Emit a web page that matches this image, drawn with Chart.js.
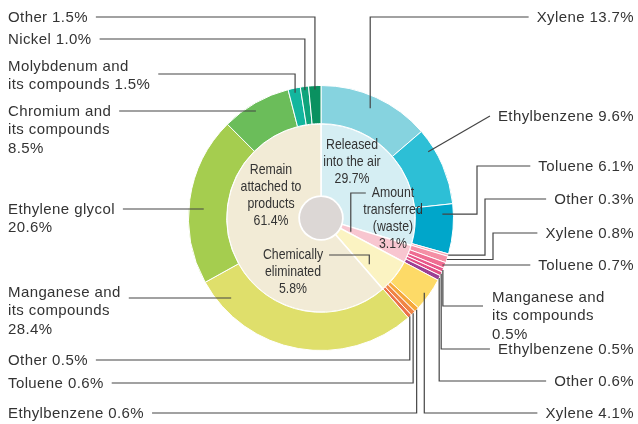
<!DOCTYPE html>
<html>
<head>
<meta charset="utf-8">
<script src="https://cdn.jsdelivr.net/npm/chart.js@4.4.1/dist/chart.umd.min.js"></script>
<style>
  html, body { margin: 0; padding: 0; background: #fff; }
  canvas { display: block; }
</style>
</head>
<body>
<canvas id="chart" width="638" height="424"></canvas>
<script>
// inner ring: where the substances end up
const groupNames = [
  ['Released', 'into the air'],
  ['Amount', 'transferred', '(waste)'],
  ['Chemically', 'eliminated'],
  ['Remain', 'attached to', 'products']
];
const groupShares = [29.7, 3.1, 5.8, 61.4];
const groupColors = ['#d5eef3', '#f8c6d0', '#fbf3c2', '#f2ebd6'];

// outer ring: substances inside each group, clockwise from the top
const substanceNames = [
  ['Xylene'], ['Ethylbenzene'], ['Toluene'], ['Other'],
  ['Xylene'], ['Toluene'], ['Manganese and', 'its compounds'], ['Ethylbenzene'], ['Other'],
  ['Xylene'], ['Ethylbenzene'], ['Toluene'], ['Other'],
  ['Manganese and', 'its compounds'], ['Ethylene glycol'], ['Chromium and', 'its compounds'],
  ['Molybdenum and', 'its compounds'], ['Nickel'], ['Other']
];
const substanceShares = [
  13.7, 9.6, 6.1, 0.3,
  0.8, 0.7, 0.5, 0.5, 0.6,
  4.1, 0.6, 0.6, 0.5,
  28.4, 20.6, 8.5, 1.5, 1.0, 1.5
];
const substanceColors = [
  '#86d3df', '#2dbfd6', '#00a6ca', '#f6aab8',
  '#f48fa5', '#ef6d92', '#e8588a', '#e14e85', '#9b3f93',
  '#fdda67', '#f5a73a', '#f08545', '#ec7249',
  '#dfdf6b', '#a5cd4f', '#6bbd5a', '#13b69e', '#0fa47b', '#0a9160'
];

const textColor = '#333333';
const lineColor = '#444444';
const hubColor = '#dcd7d5';
const labelFont = '15px "Liberation Sans", Arial, sans-serif';
const innerFont = '15px "Liberation Sans", Arial, sans-serif';

// label placement for each outer slice
// route: hv = across then up/down, hvh = with a knee, h = straight across, diag = direct
const callouts = [
  { side: 'R', x: 634, y: 17, route: 'hv', frac: 0.49, rr: 0.68 },
  { side: 'R', x: 634, y: 116, route: 'diag', frac: 0.26, rr: 0.83 },
  { side: 'R', x: 634, y: 166, route: 'hvh', knee: 477, frac: 0.2, rr: 0.71 },
  { side: 'R', x: 634, y: 199, route: 'hvh', knee: 485, frac: 0.5, rr: 1 },
  { side: 'R', x: 634, y: 233, route: 'hvh', knee: 493, frac: 0.5, rr: 1 },
  { side: 'R', x: 634, y: 265, route: 'h', rr: 0.94 },
  { side: 'R', x: 492, align: 'left', y: 297, lineY: 306, route: 'hv', frac: 0.5, rr: 1, valueBreak: true },
  { side: 'R', x: 634, y: 349, route: 'hv', frac: 0.5, rr: 1 },
  { side: 'R', x: 634, y: 381, route: 'hv', frac: 0.5, rr: 1 },
  { side: 'R', x: 634, y: 413, route: 'hv', frac: 0.54, rr: 0.87 },
  { side: 'L', x: 8, y: 413, route: 'hv', frac: 0.5, rr: 1 },
  { side: 'L', x: 8, y: 383, route: 'hv', frac: 0.5, rr: 1 },
  { side: 'L', x: 8, y: 360, route: 'hv', frac: 0.5, rr: 1 },
  { side: 'L', x: 8, y: 292, lineY: 298, route: 'h', rr: 0.68, valueBreak: true },
  { side: 'L', x: 8, y: 209, route: 'h', rr: 0.61, valueBreak: true },
  { side: 'L', x: 8, y: 111, route: 'h', rr: 0.81, valueBreak: true },
  { side: 'L', x: 8, y: 66, lineY: 74, route: 'hv', frac: 0.5, rr: 0.88 },
  { side: 'L', x: 8, y: 39, route: 'hv', frac: 0.5, rr: 0.9 },
  { side: 'L', x: 8, y: 17, route: 'hv', frac: 0.5, rr: 0.9 }
];

// inner ring labels, offsets from the centre
const groupText = [
  { dx: 31, dy: -73 },
  { dx: 72, dy: -25, lead: 'left', frac: 0.72, rr: 0.15 },
  { dx: -28, dy: 37, lead: 'right', frac: 0.75, rr: 0.62 },
  { dx: -50, dy: -48 }
];

const pct = (v) => v.toFixed(1) + '%';
const squeeze = 0.82;

function pointOn(arc, frac, rr) {
  const p = arc.getProps(['x', 'y', 'startAngle', 'endAngle', 'innerRadius', 'outerRadius'], true);
  const a = p.startAngle + frac * (p.endAngle - p.startAngle);
  const r = p.innerRadius + rr * (p.outerRadius - p.innerRadius);
  return { x: p.x + r * Math.cos(a), y: p.y + r * Math.sin(a) };
}

function polyline(ctx, pts) {
  ctx.beginPath();
  ctx.moveTo(pts[0][0], pts[0][1]);
  for (let i = 1; i < pts.length; i++) ctx.lineTo(pts[i][0], pts[i][1]);
  ctx.stroke();
}

// narrow text for the labels inside the ring
function narrowText(ctx, t, x, y) {
  ctx.save();
  ctx.translate(x, y);
  ctx.scale(squeeze, 1);
  ctx.fillText(t, 0, 0);
  ctx.restore();
}

const calloutPlugin = {
  id: 'callouts',
  afterDatasetsDraw(chart) {
    const ctx = chart.ctx;
    const outer = chart.getDatasetMeta(0).data;
    const inner = chart.getDatasetMeta(1).data;
    const hub = inner[0].getProps(['x', 'y', 'innerRadius'], true);
    const cx = hub.x, cy = hub.y;

    ctx.save();
    ctx.fillStyle = hubColor;
    ctx.beginPath();
    ctx.arc(cx, cy, hub.innerRadius - 1, 0, Math.PI * 2);
    ctx.fill();

    ctx.strokeStyle = lineColor;
    ctx.lineWidth = 1.2;
    ctx.fillStyle = textColor;
    ctx.textBaseline = 'middle';

    // outer labels and leader lines
    ctx.font = labelFont;
    ctx.letterSpacing = '0.4px';
    callouts.forEach((c, i) => {
      const value = pct(substanceShares[i]);
      const rows = substanceNames[i].slice();
      if (c.valueBreak) rows.push(value);
      else rows[rows.length - 1] += ' ' + value;

      const align = c.align || (c.side === 'L' ? 'left' : 'right');
      ctx.textAlign = align;
      let w = 0;
      rows.forEach((t, k) => {
        ctx.fillText(t, c.x, c.y + k * 18.3 + 1);
        w = Math.max(w, ctx.measureText(t).width);
      });

      let sx;
      if (c.side === 'L') sx = c.x + w + 8;
      else sx = align === 'right' ? c.x - w - 8 : c.x - 9;
      const ly = c.lineY !== undefined ? c.lineY : c.y;

      if (c.route === 'h') {
        const p = outer[i].getProps(['innerRadius', 'outerRadius'], true);
        const r = p.innerRadius + c.rr * (p.outerRadius - p.innerRadius);
        const dx = Math.sqrt(Math.max(r * r - (ly - cy) * (ly - cy), 0));
        polyline(ctx, [[sx, ly], [c.side === 'L' ? cx - dx : cx + dx, ly]]);
        return;
      }
      const e = pointOn(outer[i], c.frac, c.rr);
      if (c.route === 'diag') polyline(ctx, [[sx, ly], [e.x, e.y]]);
      else if (c.route === 'hvh') polyline(ctx, [[sx, ly], [c.knee, ly], [c.knee, e.y], [e.x, e.y]]);
      else polyline(ctx, [[sx, ly], [e.x, ly], [e.x, e.y]]);
    });

    // labels inside the inner ring
    ctx.font = innerFont;
    ctx.letterSpacing = '0px';
    ctx.textAlign = 'center';
    groupText.forEach((g, i) => {
      const rows = groupNames[i].concat([pct(groupShares[i])]);
      const x = cx + g.dx, y0 = cy + g.dy;
      rows.forEach((t, k) => narrowText(ctx, t, x, y0 + k * 16.8));
      if (!g.lead) return;
      const half = ctx.measureText(rows[0]).width * squeeze / 2;
      const e = pointOn(inner[i], g.frac, g.rr);
      const sx = g.lead === 'left' ? x - half - 6 : x + half + 6;
      polyline(ctx, [[sx, y0], [e.x, y0], [e.x, e.y]]);
    });
    ctx.restore();
  }
};

new Chart(document.getElementById('chart'), {
  type: 'doughnut',
  data: {
    labels: substanceNames.map((n) => n.join(' ')),
    datasets: [
      {
        data: substanceShares,
        backgroundColor: substanceColors,
        borderColor: '#ffffff',
        borderWidth: 1,
        weight: 38
      },
      {
        data: groupShares,
        backgroundColor: groupColors,
        borderColor: '#ffffff',
        borderWidth: 1.5,
        weight: 72
      }
    ]
  },
  options: {
    responsive: false,
    animation: false,
    events: [],
    cutout: 22,
    layout: { padding: { top: 85, bottom: 73, left: 188, right: 184 } },
    plugins: {
      legend: { display: false },
      tooltip: { enabled: false }
    }
  },
  plugins: [calloutPlugin]
});
</script>
</body>
</html>
